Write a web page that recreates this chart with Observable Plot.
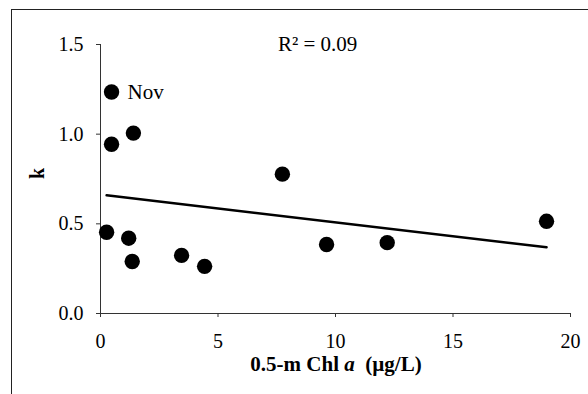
<!DOCTYPE html>
<html>
<head>
<meta charset="utf-8">
<script src="https://cdn.jsdelivr.net/npm/d3@7"></script>
<script src="https://cdn.jsdelivr.net/npm/@observablehq/plot@0.6"></script>
<style>
  html, body { margin: 0; padding: 0; background: #fff; }
  #wrap { position: relative; width: 588px; height: 394px; overflow: hidden; }
  #border { position: absolute; left: 11px; top: 9px; right: -5px; bottom: -5px;
            border-top: 1.5px solid #222; border-left: 1.5px solid #222; pointer-events: none; }
  #chart { position: absolute; left: 0; top: 0; }
  #chart svg, #chart svg text { font-family: "Liberation Serif", "Times New Roman", serif !important; }
</style>
</head>
<body>
<div id="wrap"><div id="chart"></div><div id="border"></div></div>
<script>
// Data
const chl = [0.47, 1.4, 0.47, 7.74, 0.26, 1.2, 1.35, 3.45, 4.43, 9.62, 12.2, 18.98];
const kValues = [1.235, 1.006, 0.944, 0.777, 0.453, 0.42, 0.29, 0.324, 0.263, 0.385, 0.395, 0.514];
const pointLabels = ["Nov", "", "", "", "", "", "", "", "", "", "", ""];
const xTicks = [0, 5, 10, 15, 20];
const yTicks = [0, 0.5, 1.0, 1.5];
const r2Text = ["R\u00B2 = 0.09"];
const yLabel = ["k"];

const data = chl.map((c, i) => ({chl: c, k: kValues[i], label: pointLabels[i]}));

const font = "Liberation Serif";

const plot = Plot.plot({
  width: 588,
  height: 394,
  marginLeft: 100,
  marginRight: 18,
  marginTop: 44,
  marginBottom: 81,
  style: {fontSize: "20px", background: "transparent", color: "#000"},
  x: {domain: [0, 20]},
  y: {domain: [0, 1.5]},
  marks: [
    Plot.ruleX([0], {stroke: "#333", strokeWidth: 1}),
    Plot.ruleY([0], {stroke: "#333", strokeWidth: 1}),
    Plot.axisX({ticks: xTicks, tickSize: 4, tickPadding: 16, label: null, fontSize: 20, fontFamily: font, stroke: "#333"}),
    Plot.axisY({ticks: yTicks, tickSize: 4, tickPadding: 13, tickFormat: d3.format(".1f"), label: null, fontSize: 20, fontFamily: font, stroke: "#333"}),
    Plot.linearRegressionY(data, {x: "chl", y: "k", ci: 0, stroke: "#000", strokeWidth: 2.5}),
    Plot.dot(data, {x: "chl", y: "k", r: 7.7, fill: "#000", stroke: "none"}),
    Plot.text(data, {x: "chl", y: "k", text: "label", dx: 16, textAnchor: "start", fontSize: 21, fontFamily: font, fill: "#000"}),
    Plot.text(r2Text, {x: 7.55, y: 1.5, text: d => d, textAnchor: "start", fontSize: 21, fontFamily: font, fill: "#000"}),
    Plot.text(yLabel, {frameAnchor: "left", dx: -63, rotate: -90, text: d => d, fontSize: 20, fontFamily: font, fontWeight: "bold", fill: "#000"})
  ]
});

const svg = d3.select(plot).attr("font-family", font);
// x-axis title with italic "a"
const xt = svg.append("text")
  .attr("x", 336).attr("y", 371)
  .attr("text-anchor", "middle")
  .attr("font-family", font)
  .attr("font-size", 21)
  .attr("font-weight", "bold")
  .attr("fill", "#000")
  .style("white-space", "pre");
xt.append("tspan").text("0.5-m Chl ");
xt.append("tspan").attr("font-style", "italic").text("a");
xt.append("tspan").text("  (\u00B5g/L)");

document.getElementById("chart").appendChild(plot);
</script>
</body>
</html>
